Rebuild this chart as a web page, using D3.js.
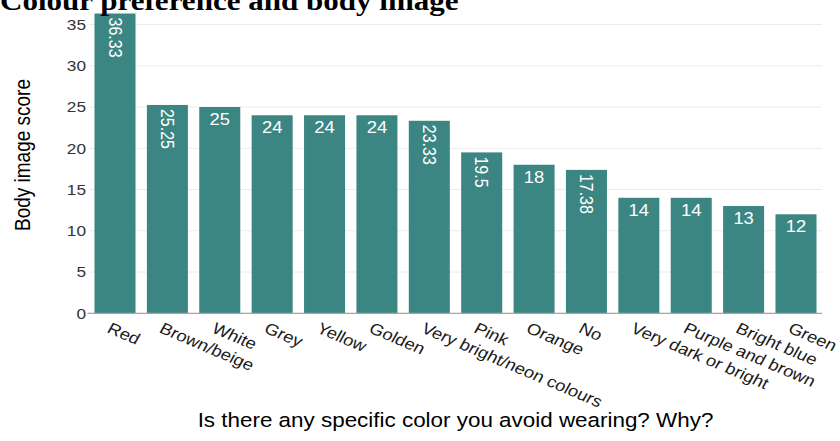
<!DOCTYPE html>
<html>
<head>
<meta charset="utf-8">
<script src="https://cdn.jsdelivr.net/npm/d3@7"></script>
<style>
  html, body { margin: 0; padding: 0; background: #ffffff; }
  svg { display: block; }
</style>
</head>
<body>
<svg id="chart" width="840" height="441"></svg>
<script>
// Colours people avoid wearing and the mean body image score of each group
const categories = [
  "Red", "Brown/beige", "White", "Grey", "Yellow", "Golden",
  "Very bright/neon colours", "Pink", "Orange", "No",
  "Very dark or bright", "Purple and brown", "Bright blue", "Green"
];
const scores = [36.33, 25.25, 25, 24, 24, 24, 23.33, 19.5, 18, 17.38, 14, 14, 13, 12];
const yTicks = [0, 5, 10, 15, 20, 25, 30, 35];

const titleText = "Colour preference and body image";
const xTitle = "Is there any specific color you avoid wearing? Why?";
const yTitle = "Body image score";

const W = 840, H = 441;
const plot = { left: 89, right: 822, bottom: 313.3 };
const sx = 1.15; // horizontal stretch applied to the text glyphs

const barColor = "#3b8682";
const sans = "'Liberation Sans', Arial, sans-serif";

const svg = d3.select("#chart");

const x = d3.scaleBand()
  .domain(categories)
  .range([plot.left, plot.right])
  .paddingInner(0.217)
  .paddingOuter(0.105);

const y = d3.scaleLinear()
  .domain([0, 35])
  .range([plot.bottom, 24.5]);

// horizontal grid lines
svg.append("g")
  .selectAll("line")
  .data(yTicks)
  .join("line")
  .attr("x1", plot.left)
  .attr("x2", plot.right)
  .attr("y1", d => y(d))
  .attr("y2", d => y(d))
  .attr("stroke", "#ebebeb")
  .attr("stroke-width", 1);

// y tick labels
svg.append("g")
  .selectAll("text")
  .data(yTicks)
  .join("text")
  .attr("transform", d => `translate(86,${y(d)}) scale(${sx},1)`)
  .attr("text-anchor", "end")
  .attr("dy", "0.35em")
  .attr("font-family", sans)
  .attr("font-size", 15)
  .attr("fill", "#333333")
  .text(d => d);

// bars
svg.append("g")
  .selectAll("rect")
  .data(scores)
  .join("rect")
  .attr("x", (d, i) => x(categories[i]))
  .attr("width", x.bandwidth())
  .attr("y", d => y(d))
  .attr("height", d => y(0) - y(d))
  .attr("fill", barColor);

// x axis line
svg.append("line")
  .attr("x1", 87.5).attr("x2", plot.right)
  .attr("y1", plot.bottom).attr("y2", plot.bottom)
  .attr("stroke", "#a6a6a6")
  .attr("stroke-width", 1.2);

// value labels: whole numbers sit upright, decimals run down the bar
const labels = svg.append("g")
  .attr("font-family", sans)
  .attr("font-size", 16)
  .attr("fill", "#ffffff");

scores.forEach((v, i) => {
  const cx = x(categories[i]) + x.bandwidth() / 2;
  const top = y(v);
  if (Number.isInteger(v)) {
    labels.append("text")
      .attr("transform", `translate(${cx},${top + 18}) scale(${sx},1)`)
      .attr("text-anchor", "middle")
      .text(String(v));
  } else {
    labels.append("text")
      .attr("transform", `translate(${cx},${top + 4}) scale(${sx},1) rotate(90)`)
      .attr("text-anchor", "start")
      .attr("dominant-baseline", "central")
      .text(String(v));
  }
});

// category labels along the x axis
svg.append("g")
  .selectAll("text")
  .data(categories)
  .join("text")
  .attr("transform", d => `translate(${x(d) + x.bandwidth() / 2 - 3},${plot.bottom + 8}) scale(${sx},1) rotate(26)`)
  .attr("text-anchor", "start")
  .attr("dy", "0.75em")
  .attr("font-family", sans)
  .attr("font-size", 16)
  .attr("fill", "#1a1a1a")
  .text(d => d);

// axis titles
svg.append("text")
  .attr("transform", `translate(${(plot.left + plot.right) / 2},427) scale(${sx},1)`)
  .attr("text-anchor", "middle")
  .attr("font-family", sans)
  .attr("font-size", 19.5)
  .attr("fill", "#000000")
  .text(xTitle);

svg.append("text")
  .attr("transform", `translate(22,155) scale(${sx},1) rotate(-90)`)
  .attr("text-anchor", "middle")
  .attr("dominant-baseline", "central")
  .attr("font-family", sans)
  .attr("font-size", 19)
  .attr("fill", "#000000")
  .text(yTitle);

// chart title
svg.append("text")
  .attr("transform", `translate(0,9.5) scale(${sx},1)`)
  .attr("font-family", "'Liberation Serif', 'Times New Roman', serif")
  .attr("font-weight", "bold")
  .attr("font-size", 27)
  .attr("fill", "#000000")
  .text(titleText);
</script>
</body>
</html>
